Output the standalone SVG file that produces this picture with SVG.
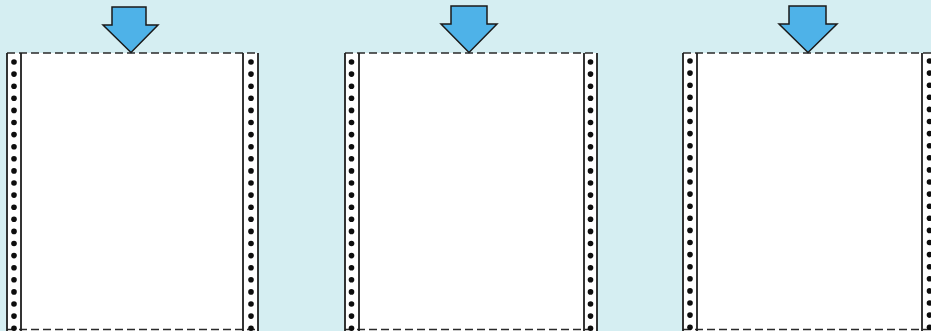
<svg xmlns="http://www.w3.org/2000/svg" xmlns:xlink="http://www.w3.org/1999/xlink" width="931" height="331" viewBox="0 0 931 331">
<style>
.paper{fill:#ffffff;stroke:none}
.edge{stroke:#1e1e1e;stroke-width:1.8;fill:none}
.perf{stroke:#2a2a2a;stroke-width:1.6;fill:none;stroke-dasharray:8 4}
.hole{fill:#0d0d0d}
.arrow{fill:#4eb2e8;stroke:#1a1a1a;stroke-width:1.5;stroke-linejoin:miter}
</style>
<defs>
<g id="holes">
<circle class="hole" cx="0" cy="0" r="2.8"/><circle class="hole" cx="0" cy="12.1" r="2.8"/><circle class="hole" cx="0" cy="24.2" r="2.8"/><circle class="hole" cx="0" cy="36.3" r="2.8"/><circle class="hole" cx="0" cy="48.4" r="2.8"/><circle class="hole" cx="0" cy="60.5" r="2.8"/><circle class="hole" cx="0" cy="72.6" r="2.8"/><circle class="hole" cx="0" cy="84.7" r="2.8"/><circle class="hole" cx="0" cy="96.8" r="2.8"/><circle class="hole" cx="0" cy="108.9" r="2.8"/><circle class="hole" cx="0" cy="121" r="2.8"/><circle class="hole" cx="0" cy="133.1" r="2.8"/><circle class="hole" cx="0" cy="145.2" r="2.8"/><circle class="hole" cx="0" cy="157.3" r="2.8"/><circle class="hole" cx="0" cy="169.4" r="2.8"/><circle class="hole" cx="0" cy="181.5" r="2.8"/><circle class="hole" cx="0" cy="193.6" r="2.8"/><circle class="hole" cx="0" cy="205.7" r="2.8"/><circle class="hole" cx="0" cy="217.8" r="2.8"/><circle class="hole" cx="0" cy="229.9" r="2.8"/><circle class="hole" cx="0" cy="242" r="2.8"/><circle class="hole" cx="0" cy="254.1" r="2.8"/><circle class="hole" cx="0" cy="266.2" r="2.8"/>
</g>
</defs>
<rect x="0" y="0" width="931" height="331" fill="#d5eef2"/>

<g id="paper1">
<rect class="paper" x="7" y="53" width="251" height="278"/>
<line class="perf" x1="7" y1="53" x2="258" y2="53"/>
<line class="perf" x1="7" y1="329.5" x2="258" y2="329.5"/>
<line class="edge" x1="7" y1="53" x2="7" y2="331"/>
<line class="edge" x1="21" y1="53" x2="21" y2="331"/>
<line class="edge" x1="243" y1="53" x2="243" y2="331"/>
<line class="edge" x1="258" y1="53" x2="258" y2="331"/>
<use xlink:href="#holes" x="14" y="62"/>
<use xlink:href="#holes" x="251" y="62"/>
</g>
<g id="arrow1">
<polygon class="arrow" points="112,7 146,7 146,25 158,25 131,52.5 103,25 112,25"/>
</g>

<g id="paper2">
<rect class="paper" x="345" y="53" width="252" height="278"/>
<line class="perf" x1="345" y1="53" x2="597" y2="53"/>
<line class="perf" x1="345" y1="329.5" x2="597" y2="329.5"/>
<line class="edge" x1="345" y1="53" x2="345" y2="331"/>
<line class="edge" x1="359" y1="53" x2="359" y2="331"/>
<line class="edge" x1="584" y1="53" x2="584" y2="331"/>
<line class="edge" x1="597" y1="53" x2="597" y2="331"/>
<use xlink:href="#holes" x="351.5" y="62"/>
<use xlink:href="#holes" x="590.5" y="62"/>
</g>
<g id="arrow2">
<polygon class="arrow" points="451,6 487,6 487,24 497,24 469,52.5 441,24 451,24"/>
</g>

<g id="paper3">
<rect class="paper" x="683" y="53" width="250" height="278"/>
<line class="perf" x1="683" y1="53" x2="931" y2="53"/>
<line class="perf" x1="683" y1="329.5" x2="931" y2="329.5"/>
<line class="edge" x1="683" y1="53" x2="683" y2="331"/>
<line class="edge" x1="697" y1="53" x2="697" y2="331"/>
<line class="edge" x1="922" y1="53" x2="922" y2="331"/>
<use xlink:href="#holes" x="690" y="61"/>
<use xlink:href="#holes" x="929.5" y="61"/>
</g>
<g id="arrow3">
<polygon class="arrow" points="789,6 826,6 826,24 837,24 808,52.5 779,24 789,24"/>
</g>
<g id="connectors"/>
</svg>
